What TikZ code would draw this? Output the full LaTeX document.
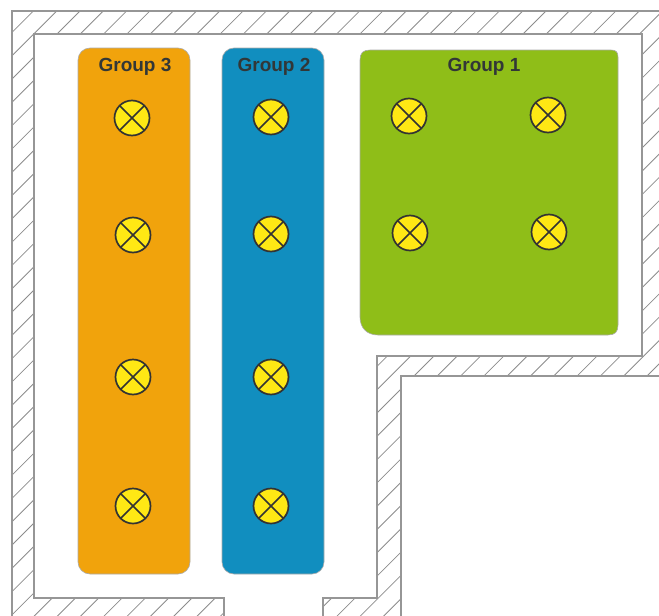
\documentclass[tikz,border=0pt]{standalone}
\usepackage{fontspec}
\setmainfont{Liberation Sans}
\definecolor{wallline}{RGB}{150,150,150}
\definecolor{hatchline}{RGB}{140,140,140}
\definecolor{grp3}{RGB}{241,163,12}
\definecolor{grp2}{RGB}{17,142,191}
\definecolor{grp1}{RGB}{143,190,24}
\definecolor{lampy}{RGB}{255,232,20}
\definecolor{lblc}{RGB}{50,55,55}
\tikzset{
  wall/.style={draw=wallline,line width=1.2pt},
  hatch/.style={draw=hatchline,line width=0.8pt},
  zone/.style={draw=wallline!80,line width=0.6pt,rounded corners=12pt,minimum width=#1},
  greenzone/.style={draw=wallline!80,line width=0.6pt,fill=grp1},
  lamp/.style={circle,draw=black!80,line width=1.7pt,fill=lampy,minimum size=35pt,inner sep=0pt,
    path picture={
      \draw[black!80,line width=1.7pt] (path picture bounding box.north west) -- (path picture bounding box.south east)
        (path picture bounding box.north east) -- (path picture bounding box.south west);}},
  lbl/.style={font=\fontsize{19}{20}\selectfont\bfseries,text=lblc,inner sep=0pt}
}
\begin{document}
\begin{tikzpicture}[x=1pt,y=-1pt]
\useasboundingbox (0,0) rectangle (659,616);
\begin{scope}
\clip (12,11) -- (659,11) -- (659,376) -- (401,376) -- (401,616) -- (323,616) -- (323,598) -- (377,598) -- (377,356) -- (642,356) -- (642,34) -- (34,34) -- (34,598) -- (224,598) -- (224,616) -- (12,616) -- cycle;
\foreach \k in {0,...,54}{
  \pgfmathsetmacro{\c}{44.4+23.3*\k}
  \draw[hatch] (\c,0) -- (0,\c);
}
\end{scope}
\draw[wall] (12,616) -- (12,11) -- (659,11);
\draw[wall] (224,616) -- (224,598) -- (34,598) -- (34,34) -- (642,34) -- (642,356) -- (377,356) -- (377,598) -- (323,598) -- (323,616);
\draw[wall] (401,616) -- (401,376) -- (659,376);
\node[zone=112pt,fill=grp3,minimum height=526pt] (z3) at (134,311) {};
\node[zone=102pt,fill=grp2,minimum height=526pt] (z2) at (273,311) {};
\draw[greenzone] (370,50) -- (611,50) .. controls (616,50) and (618,52) .. (618,57) -- (618,325) .. controls (618,332) and (615,335) .. (608,335) -- (378,335) .. controls (367,335) and (360,328) .. (360,317) -- (360,60) .. controls (360,53) and (363,50) .. (370,50) -- cycle;
\node[lbl] (t3) at (135,66.5) {Group 3};
\node[lbl] (t2) at (274,66.5) {Group 2};
\node[lbl] (t1) at (484,66.5) {Group 1};
\node[lamp] (a1) at (132,118) {};
\node[lamp] (a2) at (133,235) {};
\node[lamp] (a3) at (133,377) {};
\node[lamp] (a4) at (133,506) {};
\node[lamp] (b1) at (271,117) {};
\node[lamp] (b2) at (271,234) {};
\node[lamp] (b3) at (271,377) {};
\node[lamp] (b4) at (271,506) {};
\node[lamp] (c1) at (409,116) {};
\node[lamp] (c2) at (548,115) {};
\node[lamp] (c3) at (410,233) {};
\node[lamp] (c4) at (549,232) {};
\end{tikzpicture}
\end{document}
